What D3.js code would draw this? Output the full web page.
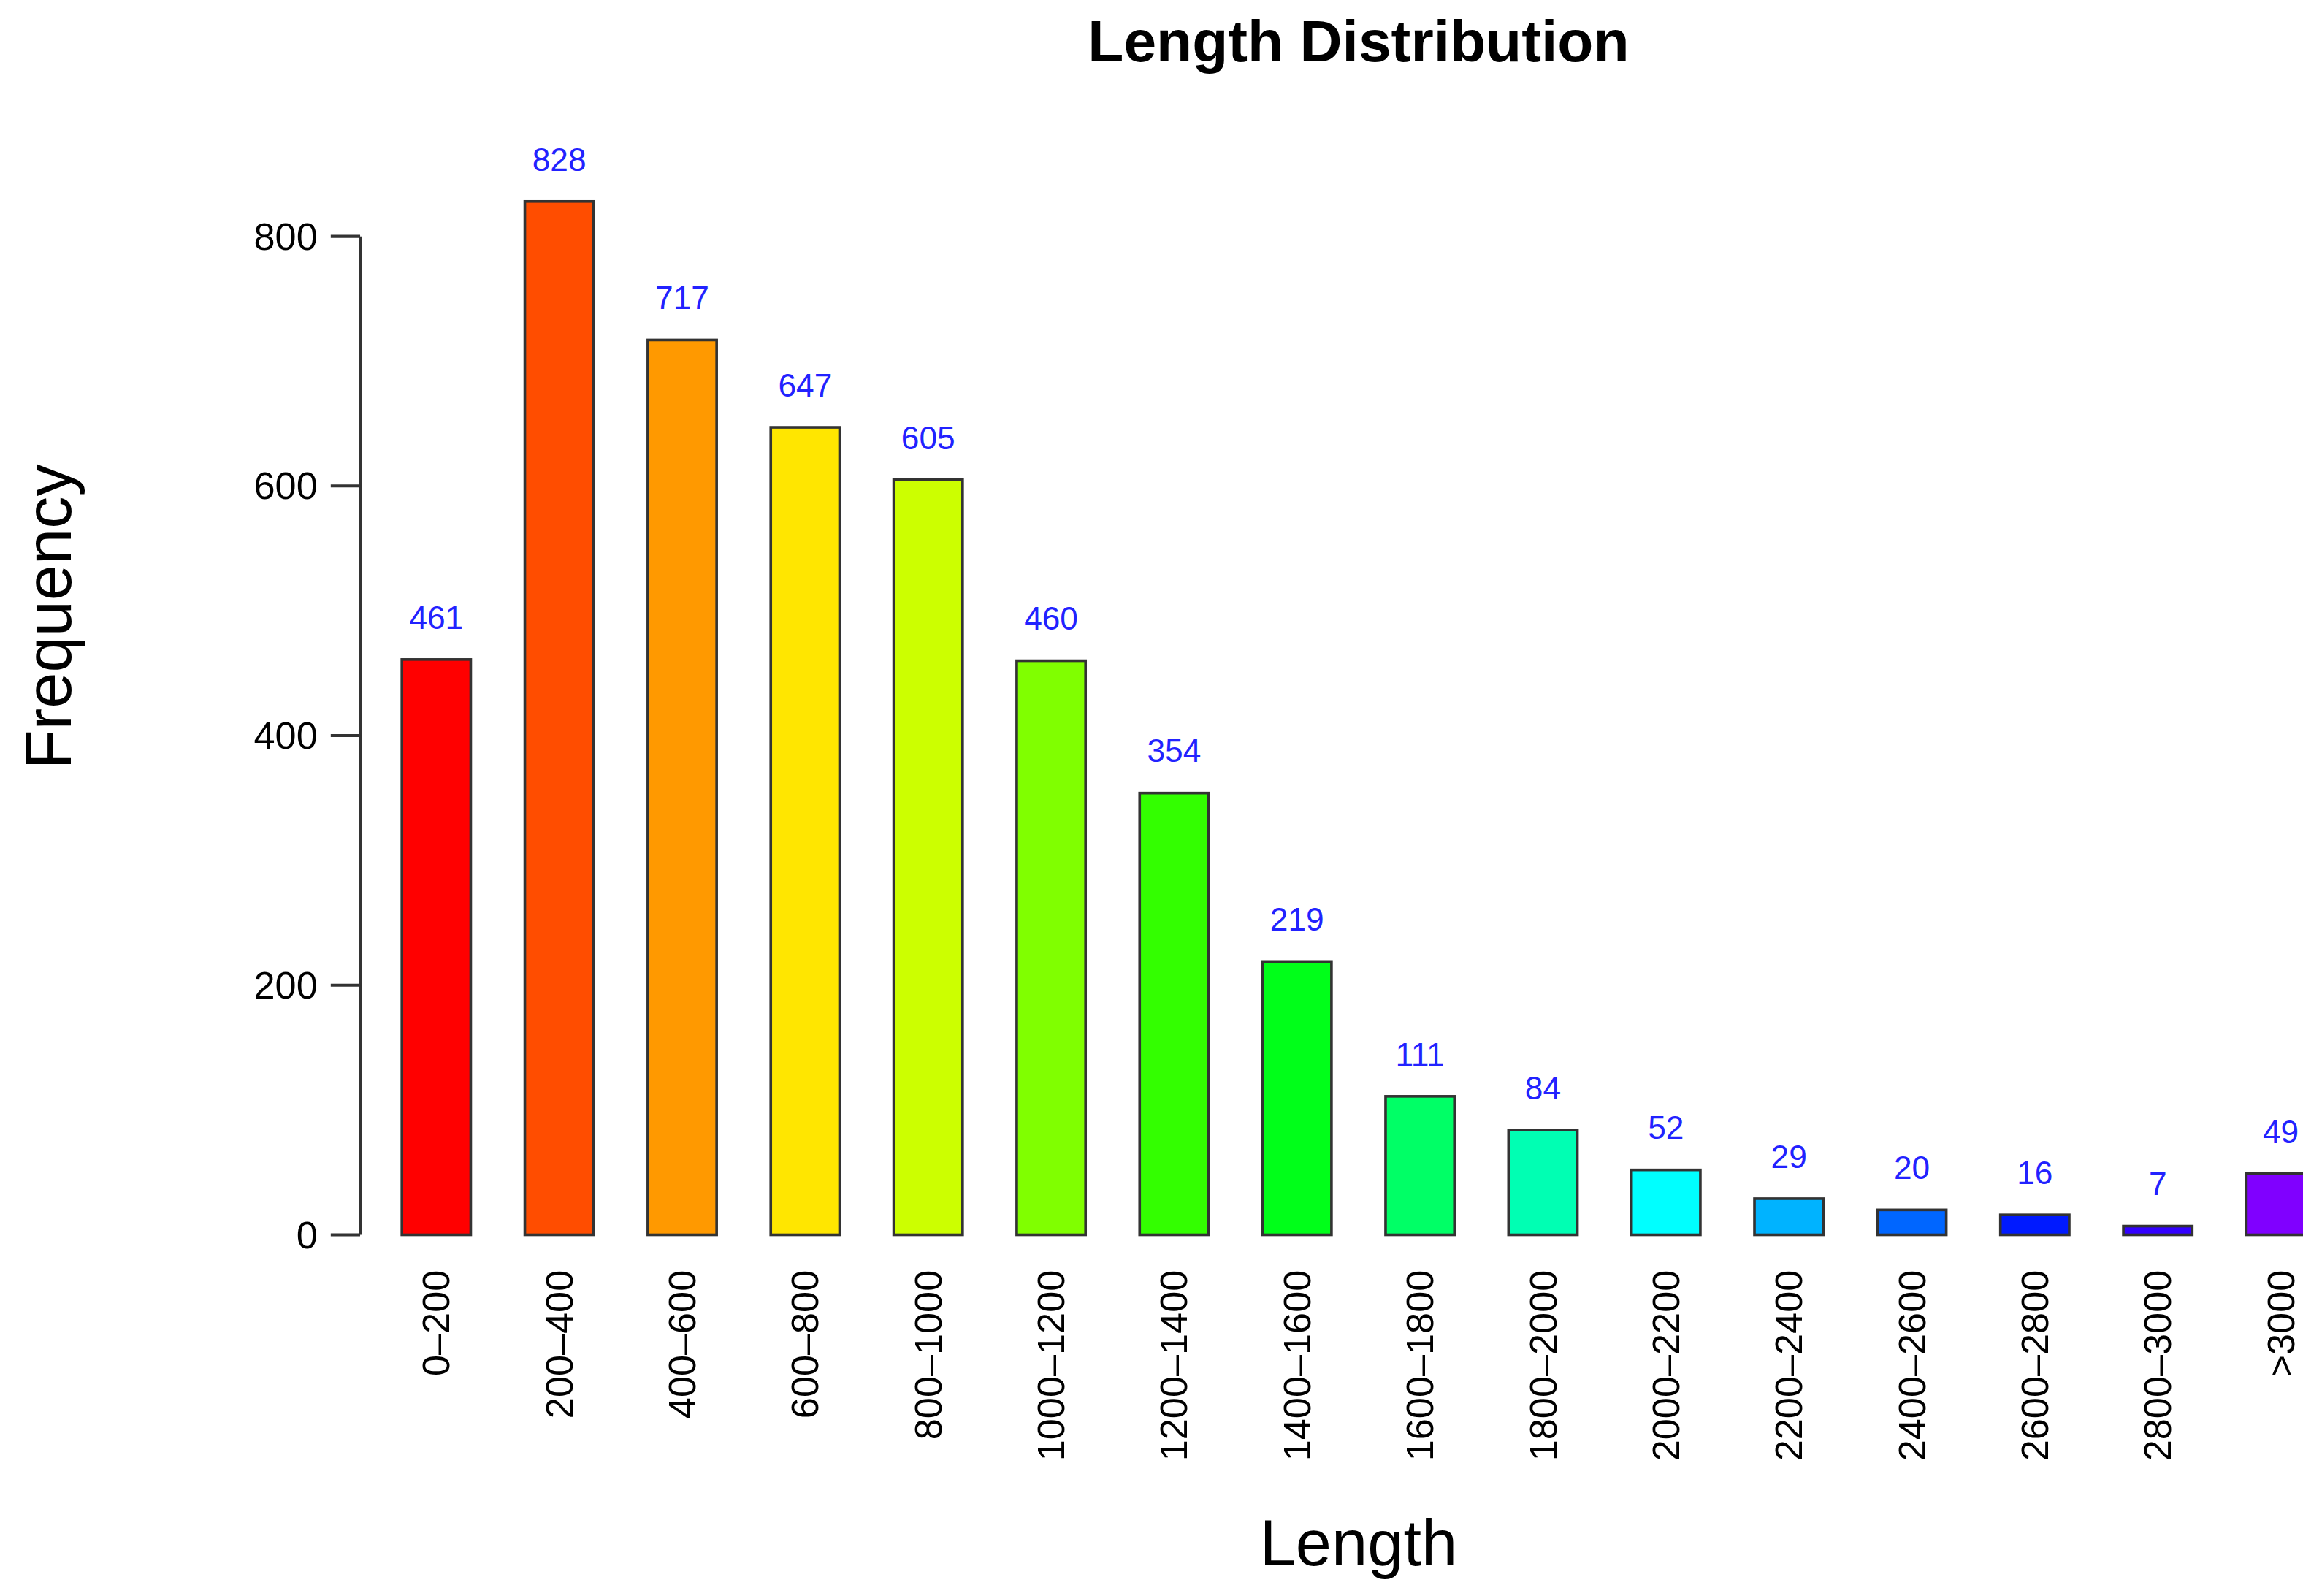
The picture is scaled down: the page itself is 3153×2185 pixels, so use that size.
<!DOCTYPE html>
<html><head><meta charset="utf-8">
<script src="https://cdn.jsdelivr.net/npm/d3@7"></script>
<style>body{margin:0;background:#fff}</style>
</head><body><div id="vis"></div>
<script>
// data
let categories = ['0-200','200-400','400-600','600-800','800-1000','1000-1200','1200-1400','1400-1600',
  '1600-1800','1800-2000','2000-2200','2200-2400','2400-2600','2600-2800','2800-3000','>3000']
let values = [461, 828, 717, 647, 605, 460, 354, 219, 111, 84, 52, 29, 20, 16, 7, 49]
let colors = ['#FF0000','#FF4D00','#FF9900','#FFE600','#CCFF00','#80FF00','#33FF00','#00FF19',
  '#00FF66','#00FFB3','#00FFFF','#00B3FF','#0066FF','#001AFF','#3300FF','#8000FF']
let yTicks = [0, 200, 400, 600, 800]

let W = 1568, H = 1087
let svg = d3.select('#vis').append('svg')
  .attr('width', 3153).attr('height', 2185)
  .attr('viewBox', [0, 0, W, H].join(' '))
  .style('font-family', 'Liberation Sans, Arial, sans-serif')

let y = d3.scaleLinear().domain([0, 800]).range([841, 161])
let x = d3.scaleBand().domain(categories).range([255, 1595]).paddingInner(0.44).paddingOuter(0.22)

// y axis
svg.append('line').attr('x1', 245).attr('x2', 245).attr('y1', y(800)).attr('y2', y(0))
  .attr('stroke', '#333').attr('stroke-width', 2)
svg.selectAll('.tick').data(yTicks).enter().append('line')
  .attr('x1', 225).attr('x2', 245).attr('y1', d => y(d)).attr('y2', d => y(d))
  .attr('stroke', '#333').attr('stroke-width', 2)
svg.selectAll('.tl').data(yTicks).enter().append('text')
  .attr('x', 216).attr('y', d => y(d) + 9).attr('text-anchor', 'end')
  .attr('font-size', 26).text(d => d)

// bars
svg.selectAll('.bar').data(values).enter().append('rect')
  .attr('x', (d, i) => x(categories[i])).attr('width', x.bandwidth())
  .attr('y', d => y(d)).attr('height', d => y(0) - y(d))
  .attr('fill', (d, i) => colors[i]).attr('stroke', '#333').attr('stroke-width', 1.8)

svg.selectAll('.val').data(values).enter().append('text')
  .attr('x', (d, i) => x(categories[i]) + x.bandwidth() / 2).attr('y', d => y(d) - 21)
  .attr('text-anchor', 'middle').attr('font-size', 22).attr('fill', '#2222FF').text(d => d)

// x labels
svg.selectAll('.xl').data(categories).enter().append('text')
  .attr('transform', d => 'translate(' + (x(d) + x.bandwidth() / 2 + 9) + ',865) rotate(-90)')
  .attr('text-anchor', 'end').attr('font-size', 26).text(d => d.replace('-', '\u2013'))

// titles
svg.append('text').attr('x', 925).attr('y', 42).attr('text-anchor', 'middle')
  .attr('font-size', 40).attr('font-weight', 'bold').text('Length Distribution')
svg.append('text').attr('x', 925).attr('y', 1066).attr('text-anchor', 'middle')
  .attr('font-size', 44).text('Length')
svg.append('text').attr('transform', 'translate(48,420) rotate(-90)').attr('text-anchor', 'middle')
  .attr('font-size', 44).text('Frequency')
</script></body></html>
